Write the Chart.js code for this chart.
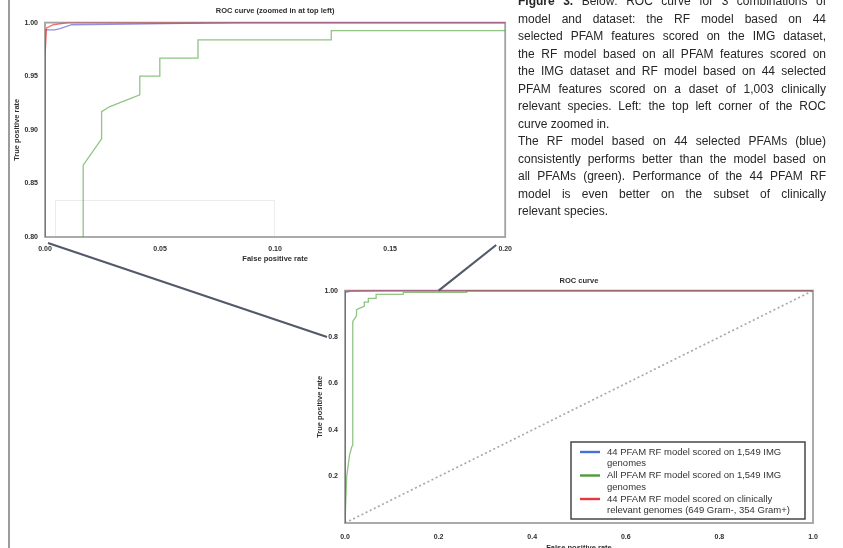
<!DOCTYPE html>
<html>
<head>
<meta charset="utf-8">
<script src="https://cdn.jsdelivr.net/npm/chart.js@4.4.1/dist/chart.umd.min.js"></script>
<style>
  html, body { margin: 0; padding: 0; background: #fff; overflow: hidden; }
  body { width: 843px; height: 548px; position: relative; font-family: "Liberation Sans", Arial, sans-serif; }
  canvas { position: absolute; }
  #zoomChart { left: 0; top: 0; }
  #fullChart { left: 300px; top: 270px; }
  #links { left: 0; top: 0; pointer-events: none; }
  .edge { position: absolute; left: 8px; top: 0; width: 1.5px; height: 548px; background: #9c9c9c; }
  .ghost { position: absolute; left: 55px; top: 200px; width: 218px; height: 37px; border: 1px solid #ececec; border-bottom: none; }
  .caption { position: absolute; left: 518px; top: -7px; width: 308px; font-size: 12px; line-height: 17.5px; color: #262626; }
  .caption div { white-space: nowrap; text-align: justify; text-align-last: justify; }
  .caption div.end { text-align-last: left; }
</style>
</head>
<body>
<div class="edge"></div>
<div class="ghost"></div>
<canvas id="zoomChart" width="520" height="268"></canvas>
<canvas id="fullChart" width="543" height="283"></canvas>
<canvas id="links" width="843" height="548"></canvas>
<div class="caption">
  <div><b>Figure 3.</b> Below: ROC curve for 3 combinations of</div>
  <div>model and dataset: the RF model based on 44</div>
  <div>selected PFAM features scored on the IMG dataset,</div>
  <div>the RF model based on all PFAM features scored on</div>
  <div>the IMG dataset and RF model based on 44 selected</div>
  <div>PFAM features scored on a daset of 1,003 clinically</div>
  <div>relevant species. Left: the top left corner of the ROC</div>
  <div class="end">curve zoomed in.</div>
  <div>The RF model based on 44 selected PFAMs (blue)</div>
  <div>consistently performs better than the model based on</div>
  <div>all PFAMs (green). Performance of the 44 PFAM RF</div>
  <div>model is even better on the subset of clinically</div>
  <div class="end">relevant species.</div>
</div>
<script>
// series (false positive rate / true positive rate)
const seriesNames = [
  ['44 PFAM RF model scored on 1,549 IMG', 'genomes'],
  ['All PFAM RF model scored on 1,549 IMG', 'genomes'],
  ['44 PFAM RF model scored on clinically', 'relevant genomes (649 Gram-, 354 Gram+)']
]
const blueFpr = [0, 0, 0.0043, 0.0065, 0.0116, 0.086, 1]
const blueTpr = [0, 0.9932, 0.9932, 0.9944, 0.998, 1, 1]
const greenFpr = [0, 0.0036, 0.0095, 0.0143, 0.0166, 0.0166, 0.0246, 0.0246, 0.0282, 0.0412, 0.0412, 0.0499, 0.0499, 0.0665, 0.0665, 0.1244, 0.1244, 0.26, 0.26, 1]
const greenTpr = [0, 0.2, 0.29, 0.327, 0.335, 0.867, 0.8916, 0.917, 0.9217, 0.9326, 0.95, 0.95, 0.9668, 0.9668, 0.9839, 0.9839, 0.9925, 0.9925, 1, 1]
const redFpr = [0, 0, 0.0007, 0.0036, 0.01, 1]
const redTpr = [0, 0.969, 0.995, 0.998, 1, 1]
const chanceFpr = [0, 1]
const chanceTpr = [0, 1]

const zoomXTicks = [0, 0.05, 0.1, 0.15, 0.2]
const zoomXLabels = ['0.00', '0.05', '0.10', '0.15', '0.20']
const zoomYTicks = [0.8, 0.85, 0.9, 0.95, 1.0]
const zoomYLabels = ['0.80', '0.85', '0.90', '0.95', '1.00']
const fullXTicks = [0, 0.2, 0.4, 0.6, 0.8, 1.0]
const fullXLabels = ['0.0', '0.2', '0.4', '0.6', '0.8', '1.0']
const fullYTicks = [0.2, 0.4, 0.6, 0.8, 1.0]
const fullYLabels = ['0.2', '0.4', '0.6', '0.8', '1.00']

const lineColors = ['rgba(70, 70, 215, 0.6)', 'rgba(70, 155, 50, 0.6)', 'rgba(230, 40, 40, 0.65)']
const keyColors = ['#4a6fd6', '#4f9a3c', '#e8383f']
const textColor = '#2e2e2e'
const fontFamily = '"Liberation Sans", Arial, sans-serif'

function points(xs, ys) {
    return xs.map((x, i) => ({ x: x, y: ys[i] }))
}

function makeDatasets() {
    return [
        { label: 'chance', data: points(chanceFpr, chanceTpr), borderColor: '#a9a9a9', borderWidth: 1.7, borderDash: [2, 2.6], order: 4 },
        { label: seriesNames[0].join(' '), data: points(blueFpr, blueTpr), borderColor: lineColors[0], borderWidth: 1.3, order: 3 },
        { label: seriesNames[1].join(' '), data: points(greenFpr, greenTpr), borderColor: lineColors[1], borderWidth: 1.3, order: 2 },
        { label: seriesNames[2].join(' '), data: points(redFpr, redTpr), borderColor: lineColors[2], borderWidth: 1.3, order: 1 },
    ]
}

// matplotlib style box round the plot area
const frame = {
    id: 'frame',
    beforeDatasetsDraw(chart, args, opts) {
        const { ctx, chartArea: a } = chart
        ctx.save()
        ctx.strokeStyle = opts.color
        ctx.lineWidth = opts.width
        ctx.strokeRect(a.left, a.top, a.right - a.left, a.bottom - a.top)
        ctx.restore()
    }
}

// boxed legend in the lower right corner, two text lines per entry
const boxLegend = {
    id: 'boxLegend',
    afterDraw(chart, args, opts) {
        if (!opts.show) return
        const { ctx, chartArea: a } = chart
        const w = 234, h = 77
        const left = a.right - 8 - w, top = a.bottom - 4 - h
        ctx.save()
        ctx.fillStyle = '#fff'
        ctx.fillRect(left, top, w, h)
        ctx.strokeStyle = '#3a3a3a'
        ctx.lineWidth = 1.4
        ctx.strokeRect(left, top, w, h)
        ctx.font = '9.5px ' + fontFamily
        ctx.textBaseline = 'middle'
        ctx.fillStyle = '#333'
        seriesNames.forEach((lines, i) => {
            const y = top + 10 + i * 23.5
            ctx.strokeStyle = keyColors[i]
            ctx.lineWidth = 2.4
            ctx.beginPath()
            ctx.moveTo(left + 9, y)
            ctx.lineTo(left + 29, y)
            ctx.stroke()
            lines.forEach((t, j) => ctx.fillText(t, left + 36, y + j * 11.7))
        })
        ctx.restore()
    }
}

function fixedTicks(values) {
    return scale => { scale.ticks = values.map(v => ({ value: v })) }
}

function makeOptions(cfg) {
    const small = { size: 7, weight: 'bold', family: fontFamily }
    const titleFont = { size: 7.5, weight: 'bold', family: fontFamily }
    return {
        responsive: false,
        animation: false,
        devicePixelRatio: 1,
        layout: { padding: cfg.padding },
        elements: { point: { radius: 0 }, line: { tension: 0 } },
        plugins: {
            legend: { display: false },
            tooltip: { enabled: false },
            title: { display: true, fullSize: false, text: cfg.title, color: textColor, font: titleFont, padding: cfg.titlePad },
            frame: { color: '#a2a2a2', width: 1.8 },
            boxLegend: { show: cfg.legend },
        },
        scales: {
            x: {
                type: 'linear', min: cfg.xMin, max: cfg.xMax,
                afterBuildTicks: fixedTicks(cfg.xTicks),
                afterFit: s => { s.height = cfg.xHeight },
                grid: { display: false, drawTicks: false },
                border: { display: false },
                ticks: { color: textColor, font: small, padding: cfg.xTickPad, autoSkip: false, maxRotation: 0, callback: (v, i) => cfg.xLabels[i] },
                title: { display: true, text: 'False positive rate', color: textColor, font: titleFont, padding: { top: 0, bottom: cfg.xTitlePad } },
            },
            y: {
                type: 'linear', min: cfg.yMin, max: cfg.yMax,
                afterBuildTicks: fixedTicks(cfg.yTicks),
                afterFit: s => { s.width = cfg.yWidth },
                grid: { display: false, drawTicks: false },
                border: { display: false },
                ticks: { color: textColor, font: small, padding: 7, autoSkip: false, callback: (v, i) => cfg.yLabels[i] },
                title: { display: true, text: 'True positive rate', color: textColor, font: titleFont, padding: { top: cfg.yTitlePad, bottom: 0 } },
            },
        },
    }
}

const zoomChart = new Chart(document.getElementById('zoomChart'), {
    type: 'scatter',
    data: { datasets: makeDatasets().map(d => Object.assign(d, { showLine: true })) },
    plugins: [frame, boxLegend],
    options: makeOptions({
        title: 'ROC curve (zoomed in at top left)',
        titlePad: { top: 6.4, bottom: 7.2 },
        padding: { left: 8, right: 14, top: 0, bottom: 0 },
        xMin: 0, xMax: 0.2, yMin: 0.8, yMax: 1.0,
        xTicks: zoomXTicks, xLabels: zoomXLabels, yTicks: zoomYTicks, yLabels: zoomYLabels,
        xHeight: 31, yWidth: 37, xTickPad: 8, xTitlePad: 4.8, yTitlePad: 4.8,
        legend: false,
    }),
})

const fullChart = new Chart(document.getElementById('fullChart'), {
    type: 'scatter',
    data: { datasets: makeDatasets().map(d => Object.assign(d, { showLine: true })) },
    plugins: [frame, boxLegend],
    options: makeOptions({
        title: 'ROC curve',
        titlePad: { top: 6.8, bottom: 4.8 },
        padding: { left: 10, right: 30, top: 0, bottom: 0 },
        xMin: 0, xMax: 1, yMin: 0, yMax: 1,
        xTicks: fullXTicks, xLabels: fullXLabels, yTicks: fullYTicks, yLabels: fullYLabels,
        xHeight: 30, yWidth: 35, xTickPad: 10, xTitlePad: 0.8, yTitlePad: 5.8,
        legend: true,
    }),
})

// connector lines from the zoomed corner to the matching spot on the full curve
function pagePoint(chart, x, y) {
    const c = chart.canvas
    return [c.offsetLeft + chart.scales.x.getPixelForValue(x), c.offsetTop + chart.scales.y.getPixelForValue(y)]
}

const lctx = document.getElementById('links').getContext('2d')
lctx.strokeStyle = '#525a6a'
lctx.lineWidth = 2.2
const a1 = pagePoint(zoomChart, 0, 0.8), b1 = pagePoint(fullChart, 0, 0.8)
const a2 = pagePoint(zoomChart, 0.2, 0.8), b2 = pagePoint(fullChart, 0.2, 1.0)
lctx.beginPath()
lctx.moveTo(a1[0] + 3, a1[1] + 6)
lctx.lineTo(b1[0] - 18, b1[1])
lctx.moveTo(a2[0] - 9, a2[1] + 8)
lctx.lineTo(b2[0], b2[1])
lctx.stroke()
</script>
</body>
</html>
